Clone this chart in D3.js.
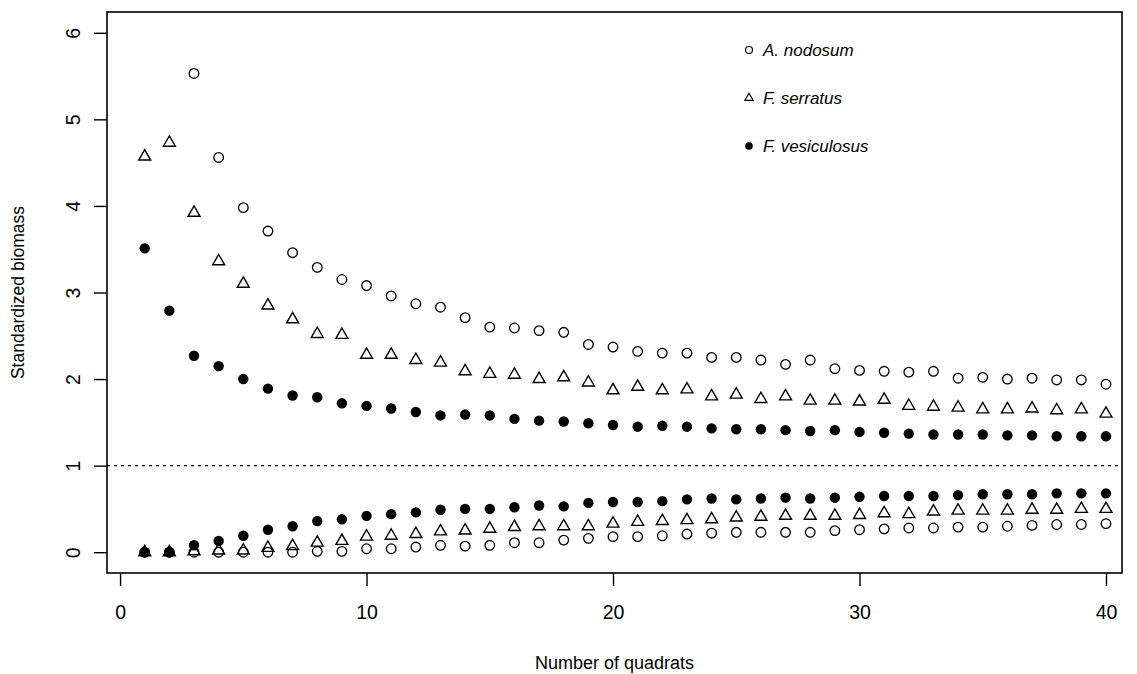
<!DOCTYPE html>
<html>
<head>
<meta charset="utf-8">
<script src="https://cdn.jsdelivr.net/npm/d3@7"></script>
<style>
  body { margin: 0; background: #fff; }
  svg { display: block; font-family: 'Liberation Sans', Arial, sans-serif; }
</style>
</head>
<body>
<div id="chart"></div>
<script>
// number of quadrats
const quadrats = d3.range(1, 41)

// upper curves (first two A. nodosum points are off the chart)
const anUpper = [null, null, 5.53, 4.56, 3.98, 3.71, 3.46, 3.29, 3.15, 3.08,
  2.96, 2.87, 2.83, 2.71, 2.60, 2.59, 2.56, 2.54, 2.40, 2.37,
  2.32, 2.30, 2.30, 2.25, 2.25, 2.22, 2.17, 2.22, 2.12, 2.10,
  2.09, 2.08, 2.09, 2.01, 2.02, 2.00, 2.01, 1.99, 1.99, 1.94]
const fsUpper = [4.57, 4.73, 3.92, 3.36, 3.10, 2.85, 2.69, 2.52, 2.51, 2.28,
  2.28, 2.22, 2.19, 2.09, 2.06, 2.05, 2.00, 2.02, 1.96, 1.87,
  1.91, 1.87, 1.88, 1.80, 1.82, 1.77, 1.80, 1.75, 1.75, 1.74,
  1.76, 1.69, 1.68, 1.67, 1.65, 1.65, 1.66, 1.64, 1.65, 1.60]
const fvUpper = [3.51, 2.79, 2.27, 2.15, 2.00, 1.89, 1.81, 1.79, 1.72, 1.69,
  1.66, 1.62, 1.58, 1.59, 1.58, 1.54, 1.52, 1.51, 1.49, 1.47,
  1.45, 1.46, 1.45, 1.43, 1.42, 1.42, 1.41, 1.40, 1.41, 1.39,
  1.38, 1.37, 1.36, 1.36, 1.36, 1.35, 1.35, 1.34, 1.34, 1.34]

// lower curves
const anLower = [0, 0, 0, 0, 0, 0, 0, 0.01, 0.01, 0.04,
  0.04, 0.06, 0.08, 0.07, 0.08, 0.11, 0.11, 0.14, 0.16, 0.18,
  0.18, 0.19, 0.21, 0.22, 0.23, 0.23, 0.23, 0.23, 0.25, 0.26,
  0.27, 0.28, 0.28, 0.29, 0.29, 0.30, 0.31, 0.32, 0.32, 0.33]
const fsLower = [0, 0, 0.01, 0.02, 0.02, 0.05, 0.07, 0.11, 0.13, 0.18,
  0.19, 0.21, 0.24, 0.25, 0.27, 0.29, 0.30, 0.30, 0.30, 0.33,
  0.35, 0.36, 0.37, 0.38, 0.40, 0.41, 0.42, 0.42, 0.42, 0.43,
  0.45, 0.44, 0.47, 0.48, 0.48, 0.48, 0.49, 0.49, 0.50, 0.50]
const fvLower = [0, 0, 0.08, 0.13, 0.19, 0.26, 0.30, 0.36, 0.38, 0.42,
  0.44, 0.46, 0.49, 0.50, 0.50, 0.52, 0.54, 0.53, 0.57, 0.58,
  0.58, 0.59, 0.61, 0.62, 0.61, 0.62, 0.63, 0.62, 0.63, 0.64,
  0.65, 0.65, 0.65, 0.66, 0.67, 0.67, 0.67, 0.68, 0.68, 0.68]

const xTicks = [0, 10, 20, 30, 40]
const yTicks = [0, 1, 2, 3, 4, 5, 6]
const species = ['A. nodosum', 'F. serratus', 'F. vesiculosus']

const width = 1137
const height = 674
const margin = { top: 12, right: 15, bottom: 101, left: 107 }

const svg = d3.select('#chart')
  .append('svg')
  .attr('width', width)
  .attr('height', height)

const x = d3.scaleLinear()
  .domain([-0.53, 40.65])
  .range([margin.left, width - margin.right])

const y = d3.scaleLinear()
  .domain([-0.24, 6.24])
  .range([height - margin.bottom, margin.top])

// reference line at 1
svg.append('line')
  .attr('x1', x.range()[0])
  .attr('x2', x.range()[1])
  .attr('y1', y(1))
  .attr('y2', y(1))
  .attr('stroke', '#000')
  .attr('stroke-width', 1.3)
  .attr('stroke-dasharray', '3,4')

// axes, R style: ticks outside, no domain line
const xAxis = svg.append('g')
  .attr('transform', `translate(0,${y.range()[0]})`)
  .call(d3.axisBottom(x).tickValues(xTicks).tickFormat(d3.format('d')).tickSize(13).tickPadding(19))
xAxis.select('.domain').remove()

const yAxis = svg.append('g')
  .attr('transform', `translate(${x.range()[0]},0)`)
  .call(d3.axisLeft(y).tickValues(yTicks).tickFormat(d3.format('d')).tickSize(13))
yAxis.select('.domain').remove()

svg.selectAll('.tick line').attr('stroke-width', 1.4)
svg.selectAll('.tick text')
  .attr('font-size', 19.5)
  .attr('font-family', 'Liberation Sans, Arial, sans-serif')
  .attr('fill', '#000')

xAxis.selectAll('.tick text').attr('dy', '0.71em')

yAxis.selectAll('.tick text')
  .attr('x', null)
  .attr('dy', null)
  .attr('text-anchor', 'middle')
  .attr('transform', 'translate(-34,0) rotate(-90)')
  .attr('dominant-baseline', 'central')

// plot box
svg.append('rect')
  .attr('x', x.range()[0])
  .attr('y', y.range()[1])
  .attr('width', x.range()[1] - x.range()[0])
  .attr('height', y.range()[0] - y.range()[1])
  .attr('fill', 'none')
  .attr('stroke', '#000')
  .attr('stroke-width', 1.6)

// axis titles
svg.append('text')
  .attr('x', (x.range()[0] + x.range()[1]) / 2)
  .attr('y', 669)
  .attr('text-anchor', 'middle')
  .attr('font-size', 18)
  .text('Number of quadrats')

svg.append('text')
  .attr('transform', `translate(24,${(y.range()[0] + y.range()[1]) / 2}) rotate(-90)`)
  .attr('text-anchor', 'middle')
  .attr('font-size', 17.5)
  .text('Standardized biomass')

const pts = values => quadrats
  .map((q, i) => ({ q, v: values[i] }))
  .filter(d => d.v !== null)

const tri = d3.symbol().type(d3.symbolTriangle)

const drawCircles = (values, r) => {
  svg.append('g').selectAll('circle')
    .data(pts(values))
    .join('circle')
    .attr('cx', d => x(d.q))
    .attr('cy', d => y(d.v))
    .attr('r', r)
    .attr('fill', 'none')
    .attr('stroke', '#000')
    .attr('stroke-width', 1.3)
}

const drawTriangles = values => {
  svg.append('g').selectAll('path')
    .data(pts(values))
    .join('path')
    .attr('transform', d => `translate(${x(d.q)},${y(d.v)})`)
    .attr('d', tri.size(62)())
    .attr('fill', 'none')
    .attr('stroke', '#000')
    .attr('stroke-width', 1.4)
}

const drawDots = values => {
  svg.append('g').selectAll('circle')
    .data(pts(values))
    .join('circle')
    .attr('cx', d => x(d.q))
    .attr('cy', d => y(d.v))
    .attr('r', 5.2)
    .attr('fill', '#000')
}

drawCircles(anUpper, 4.8)
drawCircles(anLower, 4.8)
drawTriangles(fsUpper)
drawTriangles(fsLower)
drawDots(fvUpper)
drawDots(fvLower)

// legend
const legend = svg.append('g')
  .attr('transform', 'translate(749,50)')

species.forEach((name, i) => {
  const g = legend.append('g')
    .attr('transform', `translate(0,${i * 48})`)

  if (i === 0) {
    g.append('circle').attr('r', 3.5).attr('fill', 'none').attr('stroke', '#000').attr('stroke-width', 1.2)
  } else if (i === 1) {
    g.append('path').attr('d', d3.symbol().type(d3.symbolTriangle).size(30)()).attr('fill', 'none').attr('stroke', '#000').attr('stroke-width', 1.2)
  } else {
    g.append('circle').attr('r', 3.8).attr('fill', '#000')
  }

  g.append('text')
    .attr('x', 14)
    .attr('dy', '0.35em')
    .attr('font-size', 17)
    .attr('font-style', 'italic')
    .text(name)
})
</script>
</body>
</html>
